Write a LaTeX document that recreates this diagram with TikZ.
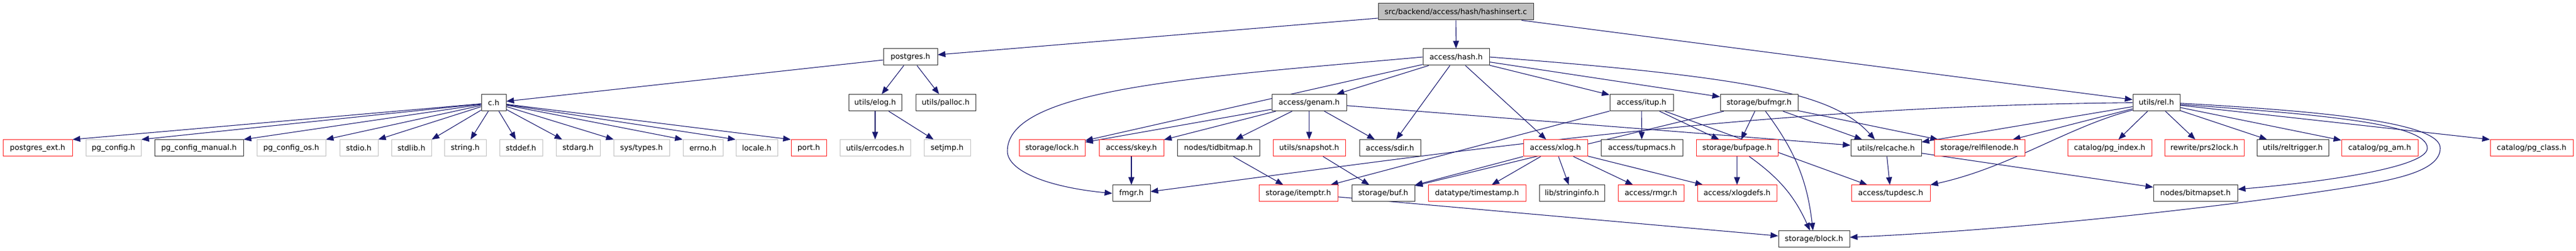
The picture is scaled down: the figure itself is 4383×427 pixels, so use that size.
\documentclass[tikz,border=0pt]{standalone}
\usepackage{fontspec}
\setmainfont{DejaVu Sans}
\usetikzlibrary{arrows.meta,calc}
\definecolor{edgeblue}{HTML}{191970}
\definecolor{greyfill}{HTML}{BFBFBF}
\definecolor{greyline}{HTML}{BFBFBF}
\definecolor{redline}{HTML}{FF2020}
\definecolor{darkline}{HTML}{303030}
\pgfdeclarelayer{bg}
\pgfsetlayers{bg,main}
\begin{document}
\begin{tikzpicture}[x=1pt,y=1pt,
  box/.style={draw, fill=white, line width=1pt, minimum height=28pt, inner sep=0pt, font=\fontsize{12.8}{15}\selectfont, text=black},
  blk/.style={box, draw=darkline},
  gry/.style={box, draw=greyline},
  rdb/.style={box, draw=redline},
  edge/.style={draw=edgeblue, line width=1.1pt, -{Triangle[length=13pt,width=10pt]}},
]
\useasboundingbox (0,0) rectangle (4383,427);
% row 0-2
\node[blk, fill=greyfill, minimum width=264pt] (root) at (2477,407) {src/backend/access/hash/hashinsert.c};
\node[blk, minimum width=92pt] (postgres) at (1549,330) {postgres.h};
\node[blk, minimum width=113pt] (hash) at (2477.5,330) {access/hash.h};
\node[blk, minimum width=42pt] (ch) at (840,252.3) {c.h};
\node[blk, minimum width=90pt] (elog) at (1489,252.3) {utils/elog.h};
\node[blk, minimum width=102pt] (palloc) at (1609,252.3) {utils/palloc.h};
\node[blk, minimum width=127pt] (genam) at (2227.5,252.3) {access/genam.h};
\node[blk, minimum width=108pt] (itup) at (2793,252.3) {access/itup.h};
\node[blk, minimum width=132pt] (bufmgr) at (2993,252.3) {storage/bufmgr.h};
\node[blk, minimum width=80pt] (rel) at (3669,252.3) {utils/rel.h};
% row 3
\node[rdb, minimum width=118pt] (pgext) at (64,175.2) {postgres\_ext.h};
\node[gry, minimum width=94pt] (pgconfig) at (193,175.2) {pg\_config.h};
\node[blk, minimum width=151pt] (pgcm) at (338.5,175.2) {pg\_config\_manual.h};
\node[gry, minimum width=117pt] (pgcos) at (495.5,175.2) {pg\_config\_os.h};
\node[gry, minimum width=65pt] (stdio) at (610.5,175.2) {stdio.h};
\node[gry, minimum width=68pt] (stdlib) at (700,175.2) {stdlib.h};
\node[gry, minimum width=71pt] (string) at (791.5,175.2) {string.h};
\node[gry, minimum width=73pt] (stddef) at (886.5,175.2) {stddef.h};
\node[gry, minimum width=75pt] (stdarg) at (983.5,175.2) {stdarg.h};
\node[gry, minimum width=95pt] (systypes) at (1091.5,175.2) {sys/types.h};
\node[gry, minimum width=68pt] (errno) at (1196,175.2) {errno.h};
\node[gry, minimum width=71pt] (locale) at (1287.5,175.2) {locale.h};
\node[rdb, minimum width=60pt] (port) at (1376,175.2) {port.h};
\node[gry, minimum width=120pt] (errcodes) at (1489,175.2) {utils/errcodes.h};
\node[gry, minimum width=79pt] (setjmp) at (1611.5,175.2) {setjmp.h};
\node[rdb, minimum width=112pt] (lock) at (1790,175.2) {storage/lock.h};
\node[rdb, minimum width=110pt] (skey) at (1925,175.2) {access/skey.h};
\node[blk, minimum width=140pt] (tidbitmap) at (2073,175.2) {nodes/tidbitmap.h};
\node[rdb, minimum width=123pt] (snapshot) at (2227.5,175.2) {utils/snapshot.h};
\node[blk, minimum width=104pt] (sdir) at (2365,175.2) {access/sdir.h};
\node[rdb, minimum width=109pt] (xlog) at (2646.5,175.2) {access/xlog.h};
\node[blk, minimum width=139pt] (tupmacs) at (2793.5,175.2) {access/tupmacs.h};
\node[rdb, minimum width=139pt] (bufpage) at (2955.5,175.2) {storage/bufpage.h};
\node[blk, minimum width=120pt] (relcache) at (3209,175.2) {utils/relcache.h};
\node[rdb, minimum width=154pt] (relfilenode) at (3368,175.2) {storage/relfilenode.h};
\node[rdb, minimum width=143pt] (pgindex) at (3589.5,175.2) {catalog/pg\_index.h};
\node[rdb, minimum width=135pt] (prs2lock) at (3750.5,175.2) {rewrite/prs2lock.h};
\node[blk, minimum width=122pt] (reltrigger) at (3901,175.2) {utils/reltrigger.h};
\node[rdb, minimum width=130pt] (pgam) at (4049,175.2) {catalog/pg\_am.h};
\node[rdb, minimum width=141pt] (pgclass) at (4307.5,175.2) {catalog/pg\_class.h};
% row 4
\node[blk, minimum width=64pt] (fmgr) at (1925,98) {fmgr.h};
\node[rdb, minimum width=134pt] (itemptr) at (2209,98) {storage/itemptr.h};
\node[blk, minimum width=107pt] (buf) at (2353.5,98) {storage/buf.h};
\node[rdb, minimum width=166pt] (timestamp) at (2513,98) {datatype/timestamp.h};
\node[blk, minimum width=111pt] (stringinfo) at (2674.5,98) {lib/stringinfo.h};
\node[rdb, minimum width=112pt] (rmgr) at (2809,98) {access/rmgr.h};
\node[rdb, minimum width=135pt] (xlogdefs) at (2955.5,98) {access/xlogdefs.h};
\node[rdb, minimum width=134pt] (tupdesc) at (3217,98) {access/tupdesc.h};
\node[blk, minimum width=143pt] (bitmapset) at (3735.5,98) {nodes/bitmapset.h};
% row 5
\node[blk, minimum width=121pt] (block) at (3086.5,20.3) {storage/block.h};

\begin{pgfonlayer}{bg}
\draw[edge] (root) -- (postgres);
\draw[edge] (root) -- (hash);
\draw[edge] (root) -- (rel);
\draw[edge] (postgres) -- (ch);
\draw[edge] (postgres) -- (elog);
\draw[edge] (postgres) -- (palloc);
% c.h
\draw[edge] (ch) -- (pgext.north east);
\draw[edge] (ch) -- (pgconfig.north east);
\draw[edge] (ch) -- (pgcm.north east);
\draw[edge] (ch) -- (pgcos.north east);
\draw[edge] (ch) -- (stdio.north east);
\draw[edge] (ch) -- (stdlib.north east);
\draw[edge] (ch) -- (string);
\draw[edge] (ch) -- (stddef);
\draw[edge] (ch) -- (stdarg);
\draw[edge] (ch) -- (systypes);
\draw[edge] (ch) -- (errno.north west);
\draw[edge] (ch) -- (locale.north west);
\draw[edge] (ch) -- (port.north west);
% elog
\draw[edge] (elog) -- (errcodes);
\draw[edge] (elog) -- (setjmp);
% hash
\draw[edge] (hash) -- (genam);
\draw[edge] (hash) -- (lock);
\draw[edge] (hash.west) .. controls (2042,296) and (1714,277) .. (1714,170) .. controls (1714,137) and (1780,109) .. (fmgr.west);
\draw[edge] (hash) -- (sdir);
\draw[edge] (hash) -- (xlog);
\draw[edge] (hash) -- (itup);
\draw[edge] (hash) -- (bufmgr);
\draw[edge] (hash.east) .. controls (2990,295) and (3120,267) .. ([xshift=-19pt]relcache.north);
% genam
\draw[edge] (genam) -- (lock);
\draw[edge] (genam) -- (skey);
\draw[edge] (genam) -- (tidbitmap);
\draw[edge] (genam) -- (snapshot);
\draw[edge] (genam) -- (sdir);
\draw[edge] (genam) -- (relcache);
\draw[edge] (skey) -- (fmgr);
\draw[edge] (tidbitmap) -- (itemptr);
\draw[edge] (snapshot) -- (buf);
% itup
\draw[edge] (itup) -- (itemptr);
\draw[edge] (itup) -- (tupmacs);
\draw[edge] (itup) -- (bufpage);
\draw[edge] (itup) -- (tupdesc);
% xlog
\draw[edge] (xlog) -- (buf);
\draw[edge] (xlog) -- (timestamp);
\draw[edge] (xlog) -- (stringinfo);
\draw[edge] (xlog) -- (rmgr);
\draw[edge] (xlog) -- (xlogdefs);
% bufmgr
\draw[edge] (bufmgr) -- (bufpage);
\draw[edge] (bufmgr) to[bend left=15] (block);
\draw[edge] (bufmgr) -- (relcache);
\draw[edge] (bufmgr) -- (relfilenode);
\draw[edge] (bufmgr) -- (buf);
\draw[edge] (bufpage) -- (xlogdefs);
\draw[edge] (bufpage) to[bend left=15] (block);
\draw[edge] (itemptr) -- (block);
\draw[edge] (relcache) -- (tupdesc);
\draw[edge] (relcache) -- (bitmapset);
% rel
\draw[edge] (rel) -- (relcache);
\draw[edge] (rel) -- (relfilenode);
\draw[edge] ([yshift=2pt]rel.south west) .. controls (3520,212) and (3420,142) .. (tupdesc.north east);
\draw[edge] (rel.west) .. controls (3000,247) and (2500,172) .. ([yshift=3pt]fmgr.east);
\draw[edge] (rel) -- (pgindex);
\draw[edge] (rel) -- (prs2lock);
\draw[edge] (rel) -- (reltrigger);
\draw[edge] (rel) -- (pgam);
\draw[edge] (rel) -- (pgclass.north west);
\draw[edge] ([yshift=-3pt]rel.east) .. controls (3950,232) and (4130,217) .. (4130,175) .. controls (4130,142) and (3950,117) .. ([yshift=7pt]bitmapset.east);
\draw[edge] ([yshift=-1pt]rel.east) .. controls (3970,237) and (4152,217) .. (4152,175) .. controls (4152,137) and (4080,122) .. (4000,109) .. controls (3800,77) and (3450,37) .. ([yshift=3pt]block.east);
\end{pgfonlayer}
\end{tikzpicture}
\end{document}
